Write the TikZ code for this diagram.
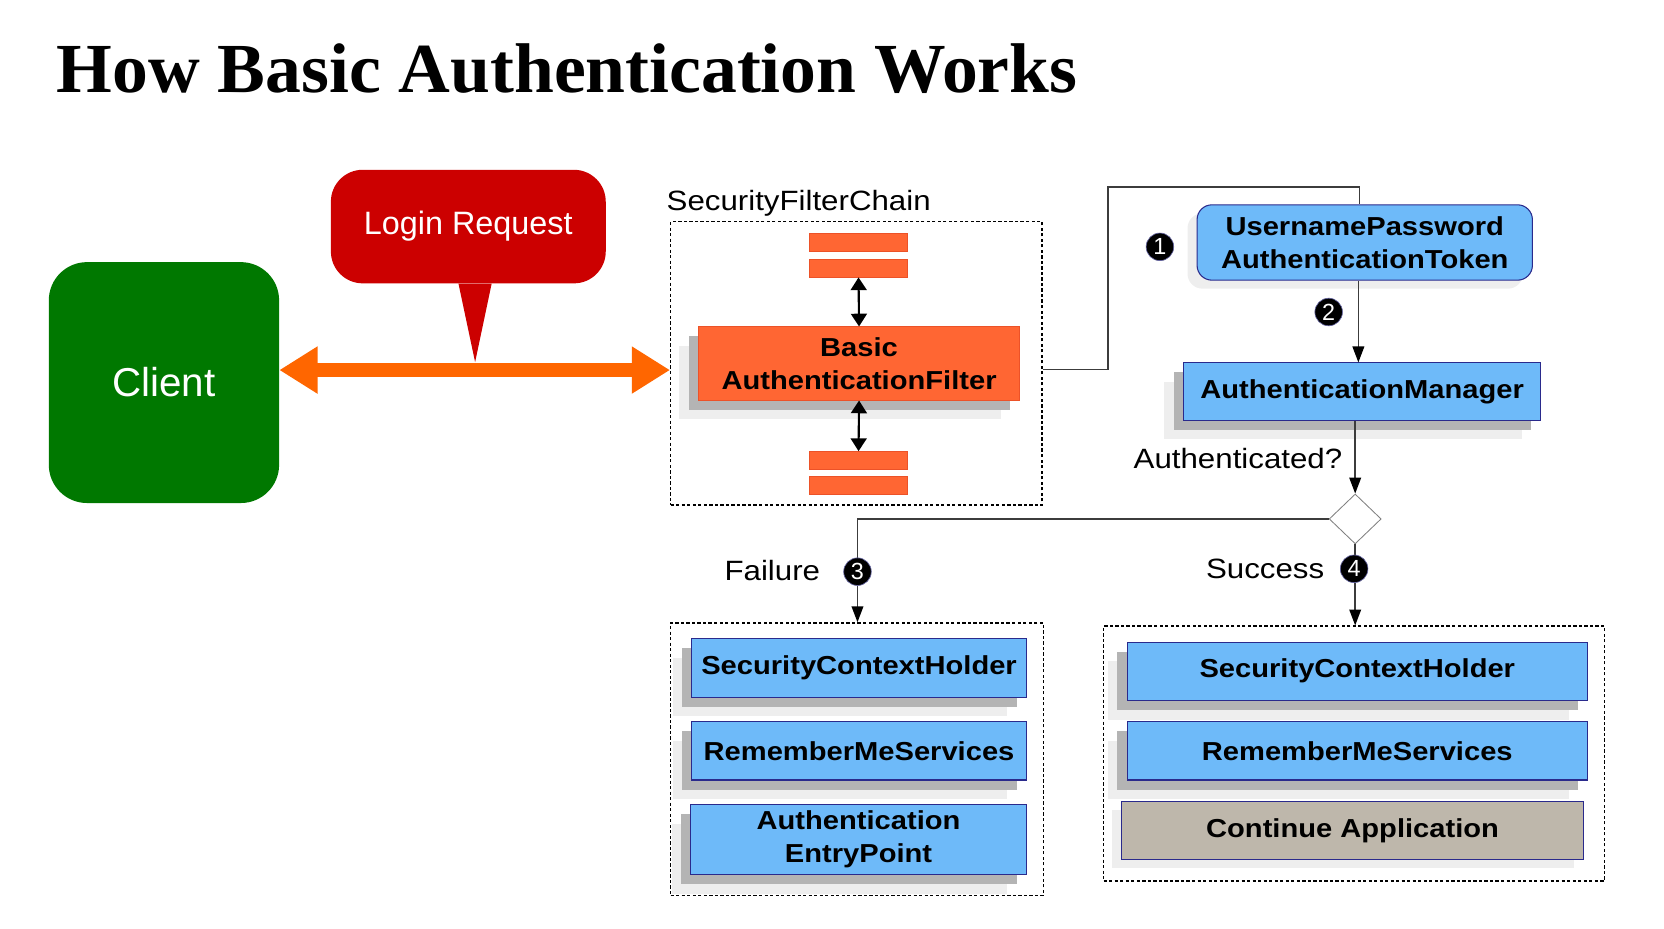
\documentclass[tikz,border=0pt]{standalone}
\usepackage{fontspec}
\usepackage{graphicx}
\setmainfont{Liberation Sans}
\newfontfamily\titlefont{Liberation Serif}
\newfontfamily\widesans{Liberation Sans}[FakeStretch=1.12]
\usetikzlibrary{arrows.meta,shapes.geometric,shadows}

\definecolor{clientgreen}{RGB}{0,120,0}
\definecolor{loginred}{RGB}{204,0,0}
\definecolor{arroworange}{RGB}{255,102,0}
\definecolor{filterorange}{RGB}{255,102,51}
\definecolor{filterborder}{RGB}{236,82,40}
\definecolor{boxblue}{RGB}{110,186,249}
\definecolor{boxborder}{RGB}{42,42,140}
\definecolor{tanfill}{RGB}{190,183,171}
\definecolor{shdark}{RGB}{180,180,180}
\definecolor{shlight}{RGB}{238,238,238}
\definecolor{conn}{RGB}{60,60,60}

\newcommand\boxfont{\widesans\fontsize{24.5}{31}\selectfont\bfseries}
\newcommand\lblfont{\widesans\fontsize{26.3}{30}\selectfont}

\tikzset{
  shadowtwo/.style={
    general shadow={fill=shlight, shadow xshift=-18pt, shadow yshift=-18pt},
    general shadow={fill=shdark, shadow xshift=-9pt, shadow yshift=-9pt}},
  shadowone/.style={
    general shadow={fill=shlight, shadow xshift=-9pt, shadow yshift=-8pt}},
  bluebox/.style={draw=boxborder, fill=boxblue, line width=1pt, inner sep=0pt,
    align=center, font=\boxfont},
  orangebox/.style={draw=filterborder, fill=filterorange, line width=0.8pt, inner sep=0pt,
    align=center, font=\boxfont},
  chainbox/.style={draw=black, line width=1.3pt, dash pattern=on 3pt off 2.2pt, inner sep=0pt},
  badge/.style={circle, fill=black, draw=black!60!blue!60, line width=0.6pt, minimum size=26pt,
    inner sep=0pt, text=white, font=\fontsize{22}{22}\selectfont},
  conline/.style={draw=conn, line width=1.5pt},
  tip/.style={-{Triangle[length=15pt,width=11pt,color=black]}},
  dtip/.style={{Triangle[length=12pt,width=15pt]}-{Triangle[length=12pt,width=15pt]}},
  label/.style={inner sep=0pt, font=\lblfont}
}

\begin{document}
\begin{tikzpicture}[x=1pt,y=-1pt]
\useasboundingbox (0,0) rectangle (1568,874.5);

% title
\node[anchor=base west, inner sep=0pt] (title) at (53,87)
  {\resizebox{962pt}{46pt}{\titlefont\bfseries How Basic Authentication Works}};

% client and login request
\node[fill=clientgreen, rounded corners=36pt, minimum width=217pt, minimum height=227pt,
  inner sep=0pt, text=white, font=\fontsize{38}{40}\selectfont] (client) at (154.5,360.5) {Client};
\node[fill=loginred, rounded corners=30pt, minimum width=259pt, minimum height=107pt,
  inner sep=0pt, text=white, font=\fontsize{30.5}{32}\selectfont] (login) at (441.3,213.5) {Login Request};

% security filter chain
\node[chainbox, minimum width=350pt, minimum height=267pt] (chain) at (807,342.5) {};
\node[label, anchor=base west] (lblchain) at (628,198) {SecurityFilterChain};
\node[orangebox, minimum width=92pt, minimum height=17pt] (t1) at (809,228.5) {};
\node[orangebox, minimum width=92pt, minimum height=17pt] (t2) at (809,252.5) {};
\node[orangebox, minimum width=92pt, minimum height=17pt] (u1) at (809,434) {};
\node[orangebox, minimum width=92pt, minimum height=17pt] (u2) at (809,457) {};
\node[orangebox, shadowtwo, minimum width=303pt, minimum height=69pt] (filter) at (809.5,342.5)
  {Basic\\AuthenticationFilter};

% main orange arrow
\coordinate (arr) at (0,348.7);
\draw[arroworange, line width=14pt, {Triangle[length=36pt,width=42pt]}-{Triangle[length=36pt,width=42pt]}]
  (client.east |- arr) -- (chain.west |- arr);
\fill[loginred] ([xshift=-9.3pt]login.south) -- ([xshift=22pt]login.south)
  -- ([xshift=6.4pt,yshift=-74pt]login.south) -- cycle;

\draw[black, line width=2pt, dtip] (t2.south) -- (filter.north);
\draw[black, line width=2pt, dtip] (filter.south) -- (u1.north);

% token and manager
\node[bluebox, shadowone, rounded corners=14pt, minimum width=316pt, minimum height=71pt]
  (token) at (1286,228.5) {UsernamePassword\\AuthenticationToken};
\node[bluebox, shadowtwo, minimum width=337pt, minimum height=54pt] (am) at (1283.5,369)
  {AuthenticationManager};
\node[diamond, draw=gray, fill=white, line width=0.8pt, minimum width=49pt, minimum height=47pt,
  inner sep=0pt] (dec) at (1277,489) {};

\coordinate (c1) at (1044,176);
\coordinate (vx) at (1280,0);
\draw[conline] ([yshift=-5.5pt]chain.east) -| (c1) -| ([xshift=-5pt]token.north);
\draw[conline, tip] (token.south -| vx) -- (am.north -| vx);
\draw[conline, tip] (am.south -| dec.north) -- (dec.north);
\node[label, anchor=base east] (lblauth) at (1265,441) {Authenticated?};

% failure branch
\node[chainbox, minimum width=351pt, minimum height=257pt] (fbox) at (807.5,715.5) {};
\coordinate (fx) at (808,489);
\draw[conline] (dec.west) -- (fx);
\draw[conline, tip] (fx) -- (fx |- fbox.north);
\node[bluebox, shadowtwo, minimum width=315pt, minimum height=55pt] (sch1) at (809.5,629.5)
  {SecurityContextHolder};
\node[bluebox, shadowtwo, minimum width=315pt, minimum height=55pt] (rms1) at (809.5,707.5)
  {RememberMeServices};
\node[bluebox, shadowtwo, minimum width=316pt, minimum height=66pt] (aep) at (809,791)
  {Authentication\\EntryPoint};

% success branch
\node[chainbox, minimum width=472pt, minimum height=240pt] (sbox) at (1276,710) {};
\draw[conline, tip] (dec.south) -- (dec.south |- sbox.north);
\node[bluebox, shadowtwo, minimum width=434pt, minimum height=55pt] (sch2) at (1279,632.5)
  {SecurityContextHolder};
\node[bluebox, shadowtwo, minimum width=434pt, minimum height=55pt] (rms2) at (1279,707.5)
  {RememberMeServices};
\node[bluebox, fill=tanfill, shadowone, minimum width=435pt, minimum height=55pt] (cont) at (1274.5,782.5)
  {Continue Application};

% labels and badges
\node[label, anchor=base east] (lblfail) at (773,547) {Failure};
\node[label, anchor=base east] (lblsucc) at (1248,545) {Success};
\node[badge] (b1) at (1093,232.6) {1};
\node[badge] (b2) at (1252,294) {2};
\node[badge] (b3) at (808,538.7) {3};
\node[badge] (b4) at (1276,536) {4};
\end{tikzpicture}
\end{document}
